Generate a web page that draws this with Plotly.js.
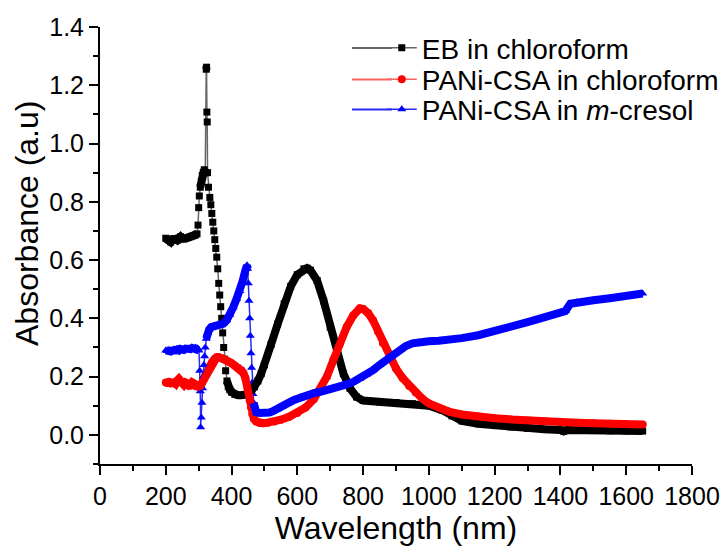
<!DOCTYPE html>
<html><head><meta charset="utf-8">
<script src="https://cdn.plot.ly/plotly-3.0.1.min.js"></script>
<style>html,body{margin:0;padding:0;background:#fff}#chart{width:724px;height:546px}</style>
</head><body><div id="chart"></div>
<script>
// EB in chloroform
const ebWl = [200,205,210,215,220,225,230,235,240,245,250,255,260,265,270,275,280,285,290,295,
  298,300,302,305,308,311,314,317,320,323,324,325,326,327,330,334,337,340,343,346,349,352,355,358,361,364,367,370,373,376,379,382,386,390,395,400,
  410,420,430,440,450,460,470,480,490,500,520,540,560,580,600,620,630,640,660,680,700,720,740,760,780,800,850,900,950,1000,1040,1070,1100,1150,1200,1250,1300,1350,1400,1410,1420,1450,1500,1550,1600,1650];
const ebAbs = [0.675,0.672,0.668,0.662,0.670,0.674,0.672,0.668,0.676,0.680,0.674,0.672,0.675,0.676,0.678,0.680,0.682,0.684,0.686,0.690,
  0.72,0.78,0.82,0.85,0.87,0.89,0.90,0.91,0.90,1.255,1.262,1.108,1.074,0.90,0.85,0.815,0.79,0.76,0.73,0.70,0.67,0.64,0.61,0.57,0.52,0.48,0.44,0.40,0.35,0.30,0.26,0.22,0.185,0.165,0.155,0.147,
  0.139,0.136,0.136,0.138,0.142,0.150,0.165,0.185,0.21,0.24,0.31,0.38,0.45,0.51,0.55,0.57,0.572,0.565,0.53,0.46,0.37,0.28,0.21,0.16,0.13,0.118,0.113,0.111,0.107,0.10,0.085,0.065,0.048,0.038,0.032,0.027,0.022,0.019,0.017,0.012,0.017,0.016,0.015,0.014,0.013,0.013];

// PANi-CSA in chloroform
const csaClWl = [200,205,210,215,220,225,230,235,240,245,250,255,260,265,270,275,280,285,290,295,300,305,310,315,320,325,330,335,340,345,350,355,360,370,380,390,400,410,420,430,436,442,447,451,455,459,463,468,475,485,495,510,530,550,575,600,625,650,670,690,710,730,750,770,790,800,815,830,845,860,880,900,920,940,960,980,1000,1030,1060,1100,1150,1200,1250,1300,1350,1400,1450,1500,1550,1600,1650];
const csaClAbs = [0.180,0.178,0.182,0.176,0.178,0.180,0.175,0.186,0.192,0.185,0.178,0.172,0.180,0.174,0.168,0.172,0.180,0.176,0.168,0.166,0.166,0.168,0.178,0.190,0.205,0.215,0.225,0.238,0.248,0.256,0.262,0.266,0.267,0.264,0.258,0.252,0.246,0.238,0.230,0.222,0.212,0.195,0.170,0.145,0.120,0.095,0.072,0.055,0.046,0.041,0.040,0.042,0.046,0.052,0.062,0.075,0.094,0.122,0.155,0.200,0.258,0.315,0.370,0.410,0.434,0.432,0.418,0.393,0.355,0.315,0.268,0.228,0.195,0.168,0.145,0.124,0.108,0.092,0.080,0.070,0.062,0.057,0.053,0.049,0.046,0.044,0.042,0.040,0.038,0.037,0.036];

// PANi-CSA in m-cresol
const csaMcWl = [200,205,210,215,220,225,230,235,240,245,250,255,260,265,270,275,280,285,290,295,298,301,303,305,306,308,310,312,314,316,318,320,323,327,332,338,345,355,365,375,385,395,405,415,425,433,440,444,447,449,451,453,455,457,459,461,463,465,467,470,475,485,495,505,515,525,540,555,570,590,610,630,650,670,690,710,730,750,770,790,810,830,850,870,890,910,930,950,970,1000,1030,1060,1100,1150,1200,1250,1300,1350,1400,1415,1430,1450,1500,1550,1600,1650];
const csaMcAbs = [0.290,0.288,0.292,0.286,0.290,0.294,0.290,0.293,0.290,0.295,0.290,0.292,0.296,0.293,0.297,0.294,0.298,0.296,0.300,0.298,0.296,0.290,0.220,0.150,0.026,0.060,0.110,0.160,0.200,0.240,0.270,0.300,0.330,0.350,0.362,0.370,0.372,0.374,0.376,0.382,0.393,0.412,0.438,0.466,0.494,0.525,0.556,0.575,0.582,0.570,0.520,0.460,0.400,0.340,0.280,0.230,0.180,0.140,0.110,0.090,0.078,0.075,0.074,0.074,0.077,0.081,0.088,0.098,0.108,0.120,0.130,0.137,0.143,0.148,0.153,0.159,0.165,0.173,0.182,0.193,0.206,0.222,0.240,0.258,0.276,0.292,0.305,0.314,0.318,0.321,0.323,0.326,0.332,0.342,0.355,0.370,0.387,0.403,0.419,0.425,0.450,0.455,0.462,0.469,0.477,0.485];

const seriesNames = ['EB in chloroform', 'PANi-CSA in chloroform', 'PANi-CSA in <i>m</i>-cresol'];

// thick band drawn where the curve is smooth; broken where it is steep (there only markers + thin line)
function band(x, y, thr) {
  const xs = [], ys = [];
  for (let i = 0; i < x.length; i++) {
    xs.push(x[i]); ys.push(y[i]);
    if (i < x.length - 1) {
      const s = Math.abs((y[i+1] - y[i]) / (x[i+1] - x[i]));
      if (s > thr) { xs.push((x[i] + x[i+1]) / 2); ys.push(null); }
    }
  }
  return {xs, ys};
}

const legendY = [0.952, 0.880, 0.811];
const defs = [
  {x: ebWl, y: ebAbs, color: '#000000', lc: '#666666', sym: 'square', size: 7},
  {x: csaClWl, y: csaClAbs, color: '#ff0000', lc: '#ff6060', sym: 'circle', size: 8},
  {x: csaMcWl, y: csaMcAbs, color: '#0000ff', lc: '#2a2aff', sym: 'triangle-up', size: 8}
];

const traces = [];
// marker traces first (with legend), thick bands on top
defs.forEach((d, k) => {
  traces.push({x: d.x, y: d.y, type: 'scatter', mode: 'lines+markers', name: seriesNames[k],
    legend: k === 0 ? 'legend' : 'legend' + (k + 1),
    line: {color: d.lc, width: 1.5}, marker: {symbol: d.sym, size: d.size, color: d.color}});
});
defs.forEach((d) => {
  const b = band(d.x, d.y, 0.008);
  traces.push({x: b.xs, y: b.ys, type: 'scatter', mode: 'lines', showlegend: false, hoverinfo: 'skip',
    line: {color: d.color, width: 8}});
});

const font = 'Liberation Sans, Arial, sans-serif';
const legFont = {family: font, size: 28, color: '#000'};
function leg(y) { return {x: 0.476, xanchor: 'left', y: y, yanchor: 'middle', bgcolor: 'rgba(0,0,0,0)', font: legFont}; }

const shapes = defs.map((d, k) => ({type: 'line', xref: 'paper', yref: 'paper',
  x0: (352 - 100) / 592, x1: (392 - 100) / 592, y0: legendY[k], y1: legendY[k],
  line: {color: d.lc, width: 2}}));

const layout = {
  width: 724, height: 546,
  margin: {l: 100, r: 32, t: 27, b: 82, autoexpand: false},
  paper_bgcolor: '#fff', plot_bgcolor: '#fff',
  font: {family: font, color: '#000', size: 25},
  showlegend: true,
  legend: leg(legendY[0]), legend2: leg(legendY[1]), legend3: leg(legendY[2]),
  shapes: shapes,
  annotations: [{text: 'Absorbance (a.u)', xref: 'paper', yref: 'paper', x: (27 - 100) / 592, y: (464 - 224) / 437,
    xanchor: 'center', yanchor: 'middle', textangle: -90, showarrow: false, font: {size: 32, family: font, color: '#000'}}],
  xaxis: {range: [0, 1800], dtick: 200, tick0: 0, showgrid: false, zeroline: false, automargin: false,
    showline: true, linecolor: '#000', linewidth: 2, ticks: 'outside', ticklen: 9, tickwidth: 2, tickcolor: '#000',
    minor: {dtick: 100, ticks: 'outside', ticklen: 5, tickwidth: 2, tickcolor: '#000', showgrid: false},
    tickfont: {size: 25, family: font},
    title: {text: 'Wavelength (nm)', font: {size: 32, family: font}, standoff: 14}},
  yaxis: {range: [-0.1, 1.4], dtick: 0.2, tick0: 0, tickformat: '.1f', showgrid: false, zeroline: false, automargin: false,
    showline: true, linecolor: '#000', linewidth: 2, ticks: 'outside', ticklen: 9, tickwidth: 2, tickcolor: '#000',
    minor: {dtick: 0.1, ticks: 'outside', ticklen: 5, tickwidth: 2, tickcolor: '#000', showgrid: false},
    tickfont: {size: 25, family: font}}
};

Plotly.newPlot('chart', traces, layout, {displayModeBar: false, staticPlot: true});
</script>
</body></html>
